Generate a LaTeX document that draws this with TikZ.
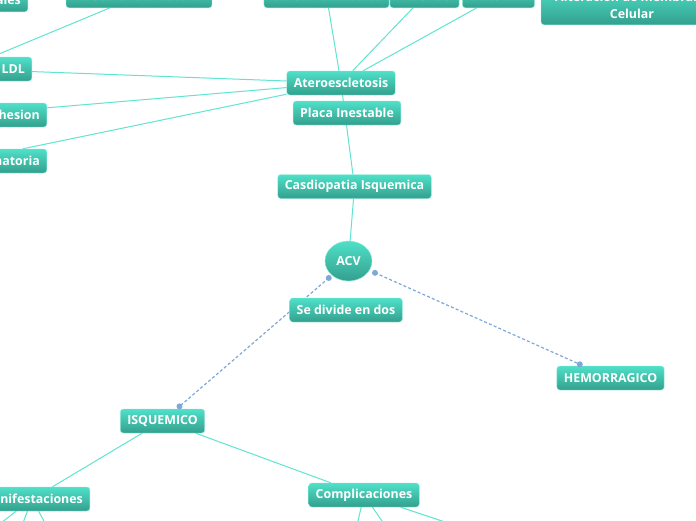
\documentclass[tikz,border=0pt]{standalone}
\usepackage{fontspec}
\setmainfont{Open Sans}
\usetikzlibrary{shapes.geometric,arrows.meta,calc}
\definecolor{ntop}{HTML}{4FE0C8}
\definecolor{nbot}{HTML}{33A08E}
\definecolor{nline}{HTML}{5FE5D0}
\definecolor{dline}{HTML}{7EA8D6}
\pgfdeclarelayer{bg}
\pgfsetlayers{bg,main}
\tikzset{
  box/.style={draw=ntop!60!white, line width=0.4pt, rounded corners=3pt,
    top color=ntop, bottom color=nbot, text=white,
    font=\fontsize{12.4}{14.5}\selectfont\bfseries,
    minimum height=24pt, inner xsep=7pt, inner ysep=3pt},
  oval/.style={box, ellipse, rounded corners=0pt, minimum width=47pt, minimum height=40pt, inner sep=0pt},
  conn/.style={draw=nline, line width=1pt},
  dconn/.style={draw=dline, line width=1.2pt, dash pattern=on 3pt off 2.2pt},
  enddot/.style={circle, fill=dline, draw=none, inner sep=0pt, minimum size=6pt}
}
\begin{document}
\begin{tikzpicture}[x=1pt,y=-1pt]
\useasboundingbox (0,0) rectangle (696,520);
\clip (0,0) rectangle (696,520);
% top row (clipped)
\node[box, anchor=south east] (ales) at (28,12) {Lesiones Endoteliales};
\node[box, minimum width=140pt, anchor=south] (mus) at (139,8) {Músculo liso vascular};
\node[box, minimum width=117pt, anchor=south] (sal) at (326.5,8) {Consumo de Sales};
\node[box, minimum width=63pt, anchor=south] (her) at (424.5,8) {Herencia};
\node[box, minimum width=69pt, anchor=south] (obe) at (498.5,8) {Obesidad};
\node[box, minimum width=182pt, anchor=south, align=center, inner ysep=6pt,
  font=\fontsize{12.4}{17.5}\selectfont\bfseries] (alt) at (632,25) {Alteración de membrana\\Celular};
% left column (clipped)
\node[box, text width=124pt, align=right, anchor=east] (ldl) at (32,69) {Colesterol LDL};
\node[box, text width=156pt, align=right, anchor=east] (adh) at (47,115) {Adhesion};
\node[box, text width=152pt, align=right, anchor=east] (inf) at (47,161) {Inflamatoria};
% centre
\node[box, minimum width=104pt] (ate) at (341,83) {Ateroescletosis};
\node[box, minimum width=104pt] (pla) at (347,113) {Placa Inestable};
\node[box, minimum width=145pt] (cas) at (354.5,186.5) {Casdiopatia Isquemica};
\node[oval] (acv) at (348.5,261) {ACV};
\node[box, minimum width=108pt] (sed) at (346,310) {Se divide en dos};
\node[box, minimum width=101pt] (hem) at (610.5,378) {HEMORRAGICO};
\node[box, minimum width=79pt] (isq) at (162.5,421) {ISQUEMICO};
\node[box, minimum width=110pt] (man) at (32,499) {Manifestaciones};
\node[box, minimum width=106pt] (com) at (364,495) {Complicaciones};
% end dots of the dashed relations
\node[enddot] (d1) at ($(acv.center)!26pt!(isq.center)$) {};
\node[enddot] (d2) at ($(isq.center)!22.4pt!(acv.center)$) {};
\node[enddot] (d3) at ($(acv.center)!29pt!(hem.center)$) {};
\node[enddot] (d4) at ($(hem.center)!33.6pt!(acv.center)$) {};
% hidden children below the frame
\coordinate (m1) at (-47,560);
\coordinate (m2) at (9,560);
\coordinate (m3) at (65,560);
\coordinate (c1) at (349,560);
\coordinate (c2) at (409,560);
\coordinate (c3) at (499,540);
\begin{pgfonlayer}{bg}
\fill[white] (0,0) rectangle (696,520);
\clip (0,0) rectangle (696,520);
\draw[conn] (mus) -- (ldl);
\draw[conn] (ldl) -- (ate);
\draw[conn] (adh) -- (ate);
\draw[conn] (inf) -- (ate);
\draw[conn] (sal) -- (ate);
\draw[conn] (her) -- (ate);
\draw[conn] (obe) -- (ate);
\draw[conn] (ate) -- (cas);
\draw[conn] (cas) -- (acv);
\draw[dconn] (d1.center) -- (d2.center);
\draw[dconn] (d3.center) -- (d4.center);
\draw[conn] (isq) -- (man);
\draw[conn] (isq) -- (com);
\draw[conn] (man) -- (m1);
\draw[conn] (man) -- (m2);
\draw[conn] (man) -- (m3);
\draw[conn] (com) -- (c1);
\draw[conn] (com) -- (c2);
\draw[conn] (com) -- (c3);
\end{pgfonlayer}
\end{tikzpicture}
\end{document}
